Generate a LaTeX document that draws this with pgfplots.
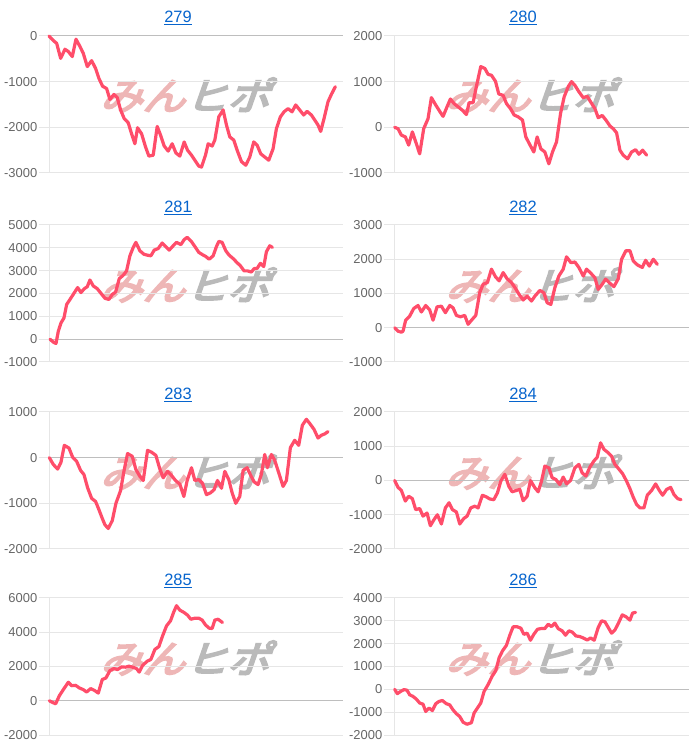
\documentclass[border=0pt]{standalone}
\usepackage{pgfplots}
\pgfplotsset{compat=1.18}
\usepackage{fontspec}
\setmainfont{Liberation Sans}
\newfontfamily\cjk{Noto Sans CJK JP}[FakeBold=5]
\definecolor{linered}{RGB}{255,77,106}
\definecolor{gridgray}{RGB}{230,230,230}
\definecolor{zerogray}{RGB}{190,190,190}
\definecolor{labelgray}{RGB}{102,102,102}
\definecolor{linkblue}{RGB}{6,100,205}
\definecolor{wmpink}{RGB}{238,182,182}
\definecolor{wmgray}{RGB}{186,186,186}
\pgfplotsset{panel/.style={
  scale only axis, height=137bp, anchor=south west,
  axis x line=none, axis y line=left,
  axis line style={-, draw=gridgray, line width=1bp},
  xtick=\empty, ymajorgrids,
  grid style={draw=gridgray, line width=1bp},
  tick align=outside, major tick length=10bp,
  ytick style={draw=gridgray, line width=1bp},
  yticklabel style={font=\fontsize{13}{15}\selectfont, text=labelgray, inner sep=1.5bp},
  /pgf/number format/assume math mode=true, /pgf/number format/1000 sep={},
  scaled y ticks=false,
  extra y ticks={0}, extra y tick labels={},
  extra y tick style={grid style={draw=zerogray, line width=1bp}, tick style={draw=zerogray, line width=1bp}},
  clip=false,
}, ln/.style={draw=linered, line width=3.2bp, line join=round, line cap=round, mark=none}}
\newcommand\ttl[3]{\node[font=\fontsize{16.5}{19}\selectfont, text=linkblue] at (#1bp,#2bp) {\underline{#3}};}
\newcommand\wm[2]{\begin{scope}[shift={(#1bp,#2bp)}, xslant=0.35, xscale=1.12]\node[transform shape, inner sep=0pt, font=\cjk\fontsize{38}{40}\selectfont] at (0,0) {\textcolor{wmpink}{みん}\textcolor{wmgray}{ヒポ}};\end{scope}}
\begin{document}
\begin{tikzpicture}
\path[use as bounding box] (0,0) rectangle (700bp,752bp);
\wm{190}{657}\wm{535}{657}
\wm{190}{467}\wm{535}{467}
\wm{190}{280}\wm{535}{280}
\wm{190}{94}\wm{535}{94}
\ttl{178}{734}{279}\ttl{523}{734}{280}
\ttl{178}{544}{281}\ttl{523}{544}{282}
\ttl{178}{357}{283}\ttl{523}{357}{284}
\ttl{178}{171}{285}\ttl{523}{171}{286}
% 279
\begin{axis}[panel, at={(49bp,579bp)}, width=294bp, xmin=147, xmax=1030, ymin=-3000, ymax=0, ytick={-3000,-2000,-1000,0}]
\addplot[ln] coordinates {(147,0)(160,-100)(170,-160)(182,-490)(195,-290)(205,-340)(217,-450)(228,-70)(240,-230)(250,-380)(262,-670)(275,-540)(287,-710)(297,-930)(308,-1100)(320,-1150)(330,-1390)(342,-1280)(352,-1350)(362,-1620)(373,-1810)(385,-1900)(395,-2140)(405,-2360)(413,-2010)(425,-2140)(437,-2430)(447,-2630)(460,-2610)(472,-1980)(482,-2170)(493,-2410)(505,-2520)(517,-2360)(528,-2560)(540,-2630)(553,-2320)(563,-2500)(575,-2610)(585,-2720)(597,-2850)(605,-2870)(617,-2610)(625,-2360)(637,-2410)(645,-2280)(657,-1770)(670,-1620)(680,-1950)(690,-2210)(702,-2280)(712,-2500)(725,-2750)(738,-2830)(750,-2650)(762,-2320)(772,-2390)(783,-2580)(795,-2650)(807,-2720)(820,-2470)(830,-2030)(842,-1770)(853,-1660)(865,-1590)(877,-1660)(888,-1510)(900,-1620)(912,-1730)(922,-1650)(935,-1730)(945,-1840)(955,-1950)(963,-2090)(973,-1810)(985,-1440)(995,-1280)(1007,-1110)};
\end{axis}
% 280
\begin{axis}[panel, at={(394bp,579bp)}, width=295bp, xmin=133, xmax=1017, ymin=-1000, ymax=2000, ytick={-1000,0,1000,2000}]
\addplot[ln] coordinates {(135,0)(145,-30)(155,-170)(167,-210)(177,-390)(188,-100)(200,-360)(210,-580)(222,-30)(235,190)(245,650)(258,490)(270,350)(280,240)(292,450)(302,620)(313,520)(325,450)(337,380)(350,280)(358,540)(370,540)(380,900)(393,1330)(405,1290)(415,1160)(425,1140)(437,1010)(447,730)(460,700)(470,520)(482,410)(493,270)(505,230)(518,160)(528,-210)(540,-380)(552,-540)(562,-210)(573,-470)(585,-540)(597,-800)(608,-540)(620,-320)(632,300)(643,670)(655,890)(665,1000)(675,920)(687,780)(700,650)(712,680)(722,560)(735,410)(745,210)(757,260)(768,160)(780,30)(790,-30)(800,-120)(810,-500)(820,-610)(833,-690)(845,-540)(857,-490)(867,-590)(878,-500)(890,-610)};
\end{axis}
% 281
\begin{axis}[panel, at={(49bp,390bp)}, width=294bp, xmin=147, xmax=1030, ymin=-1000, ymax=5000, ytick={-1000,0,1000,2000,3000,4000,5000}]
\addplot[ln] coordinates {(150,0)(160,-130)(168,-190)(175,350)(183,710)(192,930)(200,1520)(210,1740)(222,2010)(233,2260)(243,2040)(253,2210)(262,2300)(270,2590)(280,2330)(292,2210)(303,2010)(315,1790)(327,1740)(337,1960)(347,2060)(358,2650)(370,2800)(380,2990)(390,3650)(400,4020)(408,4240)(420,3870)(432,3720)(442,3680)(453,3650)(463,3900)(475,3970)(487,4210)(497,4060)(508,3900)(520,4090)(530,4240)(543,4140)(553,4360)(562,4460)(575,4270)(585,4060)(597,3800)(608,3700)(618,3620)(628,3500)(640,3650)(650,4060)(657,4280)(667,4240)(678,3870)(688,3680)(700,3530)(712,3350)(722,3210)(733,2990)(743,2990)(755,2940)(763,3090)(772,3100)(782,3320)(792,3180)(800,3830)(810,4090)(818,4020)};
\end{axis}
% 282
\begin{axis}[panel, at={(394bp,390bp)}, width=295bp, xmin=133, xmax=1017, ymin=-1000, ymax=3000, ytick={-1000,0,1000,2000,3000}]
\addplot[ln] coordinates {(135,0)(145,-100)(155,-130)(160,-100)(168,220)(180,340)(192,560)(205,650)(215,460)(228,650)(240,520)(250,220)(262,610)(275,630)(287,440)(300,650)(310,580)(320,360)(332,320)(345,360)(355,100)(367,240)(378,360)(390,1030)(400,1270)(413,1320)(425,1710)(437,1490)(448,1370)(460,1610)(472,1430)(485,1320)(497,1150)(508,970)(520,810)(532,920)(545,780)(555,920)(570,1090)(582,1020)(592,730)(603,680)(615,1170)(627,1510)(640,1710)(650,2070)(663,1900)(675,1920)(687,1760)(700,1510)(710,1710)(723,1590)(735,1460)(745,1120)(757,1270)(767,1420)(780,1300)(792,1200)(805,1430)(815,2000)(828,2250)(840,2250)(850,1950)(863,1830)(877,1760)(887,1970)(898,1800)(910,2000)(922,1850)};
\end{axis}
% 283
\begin{axis}[panel, at={(49bp,203bp)}, width=294bp, xmin=147, xmax=1030, ymin=-2000, ymax=1000, ytick={-2000,-1000,0,1000}]
\addplot[ln] coordinates {(148,0)(160,-150)(173,-250)(183,-100)(193,270)(207,210)(218,10)(230,-80)(242,-280)(252,-370)(263,-660)(275,-890)(287,-960)(297,-1140)(307,-1330)(315,-1470)(325,-1550)(337,-1380)(348,-1000)(362,-720)(372,-300)(383,90)(397,30)(408,-260)(420,-410)(430,-500)(443,160)(455,120)(468,50)(480,-250)(490,-440)(503,-300)(515,-390)(527,-500)(540,-580)(552,-850)(562,-500)(575,-220)(585,-500)(597,-480)(608,-560)(620,-810)(632,-770)(643,-700)(653,-500)(665,-670)(675,-300)(687,-480)(697,-770)(708,-1000)(720,-850)(730,-280)(742,-220)(753,-390)(763,-530)(775,-590)(785,-360)(795,70)(803,-220)(815,70)(825,-60)(837,-330)(850,-630)(860,-500)(872,220)(885,380)(897,270)(908,710)(920,840)(930,750)(943,620)(955,430)(965,490)(975,520)(985,570)};
\end{axis}
% 284
\begin{axis}[panel, at={(394bp,203bp)}, width=295bp, xmin=133, xmax=1017, ymin=-2000, ymax=2000, ytick={-2000,-1000,0,1000,2000}]
\addplot[ln] coordinates {(135,0)(145,-200)(155,-290)(167,-600)(177,-460)(188,-530)(198,-850)(210,-820)(220,-1040)(232,-950)(242,-1320)(253,-1140)(263,-1000)(275,-1270)(287,-800)(298,-650)(308,-850)(320,-920)(330,-1270)(342,-1110)(352,-1040)(363,-800)(375,-750)(385,-800)(398,-430)(410,-480)(420,-540)(432,-560)(443,-360)(453,-20)(465,180)(477,-170)(487,-330)(500,-290)(510,-260)(520,-590)(532,-460)(542,0)(555,-210)(565,-330)(575,-20)(585,420)(597,370)(607,80)(618,30)(630,-120)(640,100)(650,-100)(662,0)(675,370)(687,470)(697,220)(708,130)(720,390)(732,570)(742,680)(752,1100)(762,910)(775,810)(785,710)(795,470)(808,320)(818,200)(830,-20)(840,-240)(850,-490)(860,-700)(870,-800)(882,-800)(892,-430)(905,-290)(917,-100)(928,-290)(938,-430)(950,-260)(962,-200)(972,-410)(983,-530)(993,-560)};
\end{axis}
% 285
\begin{axis}[panel, at={(49bp,17bp)}, width=294bp, xmin=147, xmax=1030, ymin=-2000, ymax=6000, ytick={-2000,0,2000,4000,6000}]
\addplot[ln] coordinates {(148,0)(158,-100)(167,-180)(178,290)(190,650)(205,1080)(215,880)(227,900)(238,750)(250,650)(260,510)(272,710)(283,610)(295,450)(307,1240)(318,1330)(330,1760)(342,1880)(353,1820)(365,1980)(377,1960)(387,2020)(398,1960)(410,1880)(418,1670)(428,2060)(442,2310)(453,2410)(465,3000)(477,3160)(488,3780)(500,4370)(512,4670)(522,5200)(530,5550)(540,5290)(552,5160)(563,5000)(573,4760)(585,4820)(597,4820)(607,4710)(617,4430)(628,4240)(637,4220)(645,4710)(655,4760)(668,4570)};
\end{axis}
% 286
\begin{axis}[panel, at={(394bp,17bp)}, width=295bp, xmin=133, xmax=1017, ymin=-2000, ymax=4000, ytick={-2000,-1000,0,1000,2000,3000,4000}]
\addplot[ln] coordinates {(135,0)(143,-190)(153,-90)(163,-10)(172,-40)(180,-240)(190,-310)(200,-430)(210,-600)(220,-650)(228,-970)(238,-820)(248,-930)(258,-630)(268,-530)(278,-490)(290,-630)(300,-680)(310,-900)(320,-1070)(330,-1190)(340,-1440)(352,-1530)(365,-1460)(373,-1040)(383,-820)(393,-600)(403,-90)(415,210)(427,570)(438,820)(448,1380)(458,1680)(470,1930)(480,2370)(490,2740)(502,2740)(513,2680)(522,2410)(532,2460)(542,2150)(552,2410)(563,2630)(573,2660)(585,2660)(595,2850)(605,2750)(615,2900)(625,2660)(637,2560)(647,2370)(657,2560)(667,2510)(678,2340)(690,2310)(700,2250)(712,2160)(722,2250)(733,2150)(745,2710)(755,3000)(765,2960)(775,2710)(785,2460)(795,2600)(805,2880)(817,3260)(828,3180)(840,3030)(848,3340)(857,3370)};
\end{axis}
\end{tikzpicture}
\end{document}
